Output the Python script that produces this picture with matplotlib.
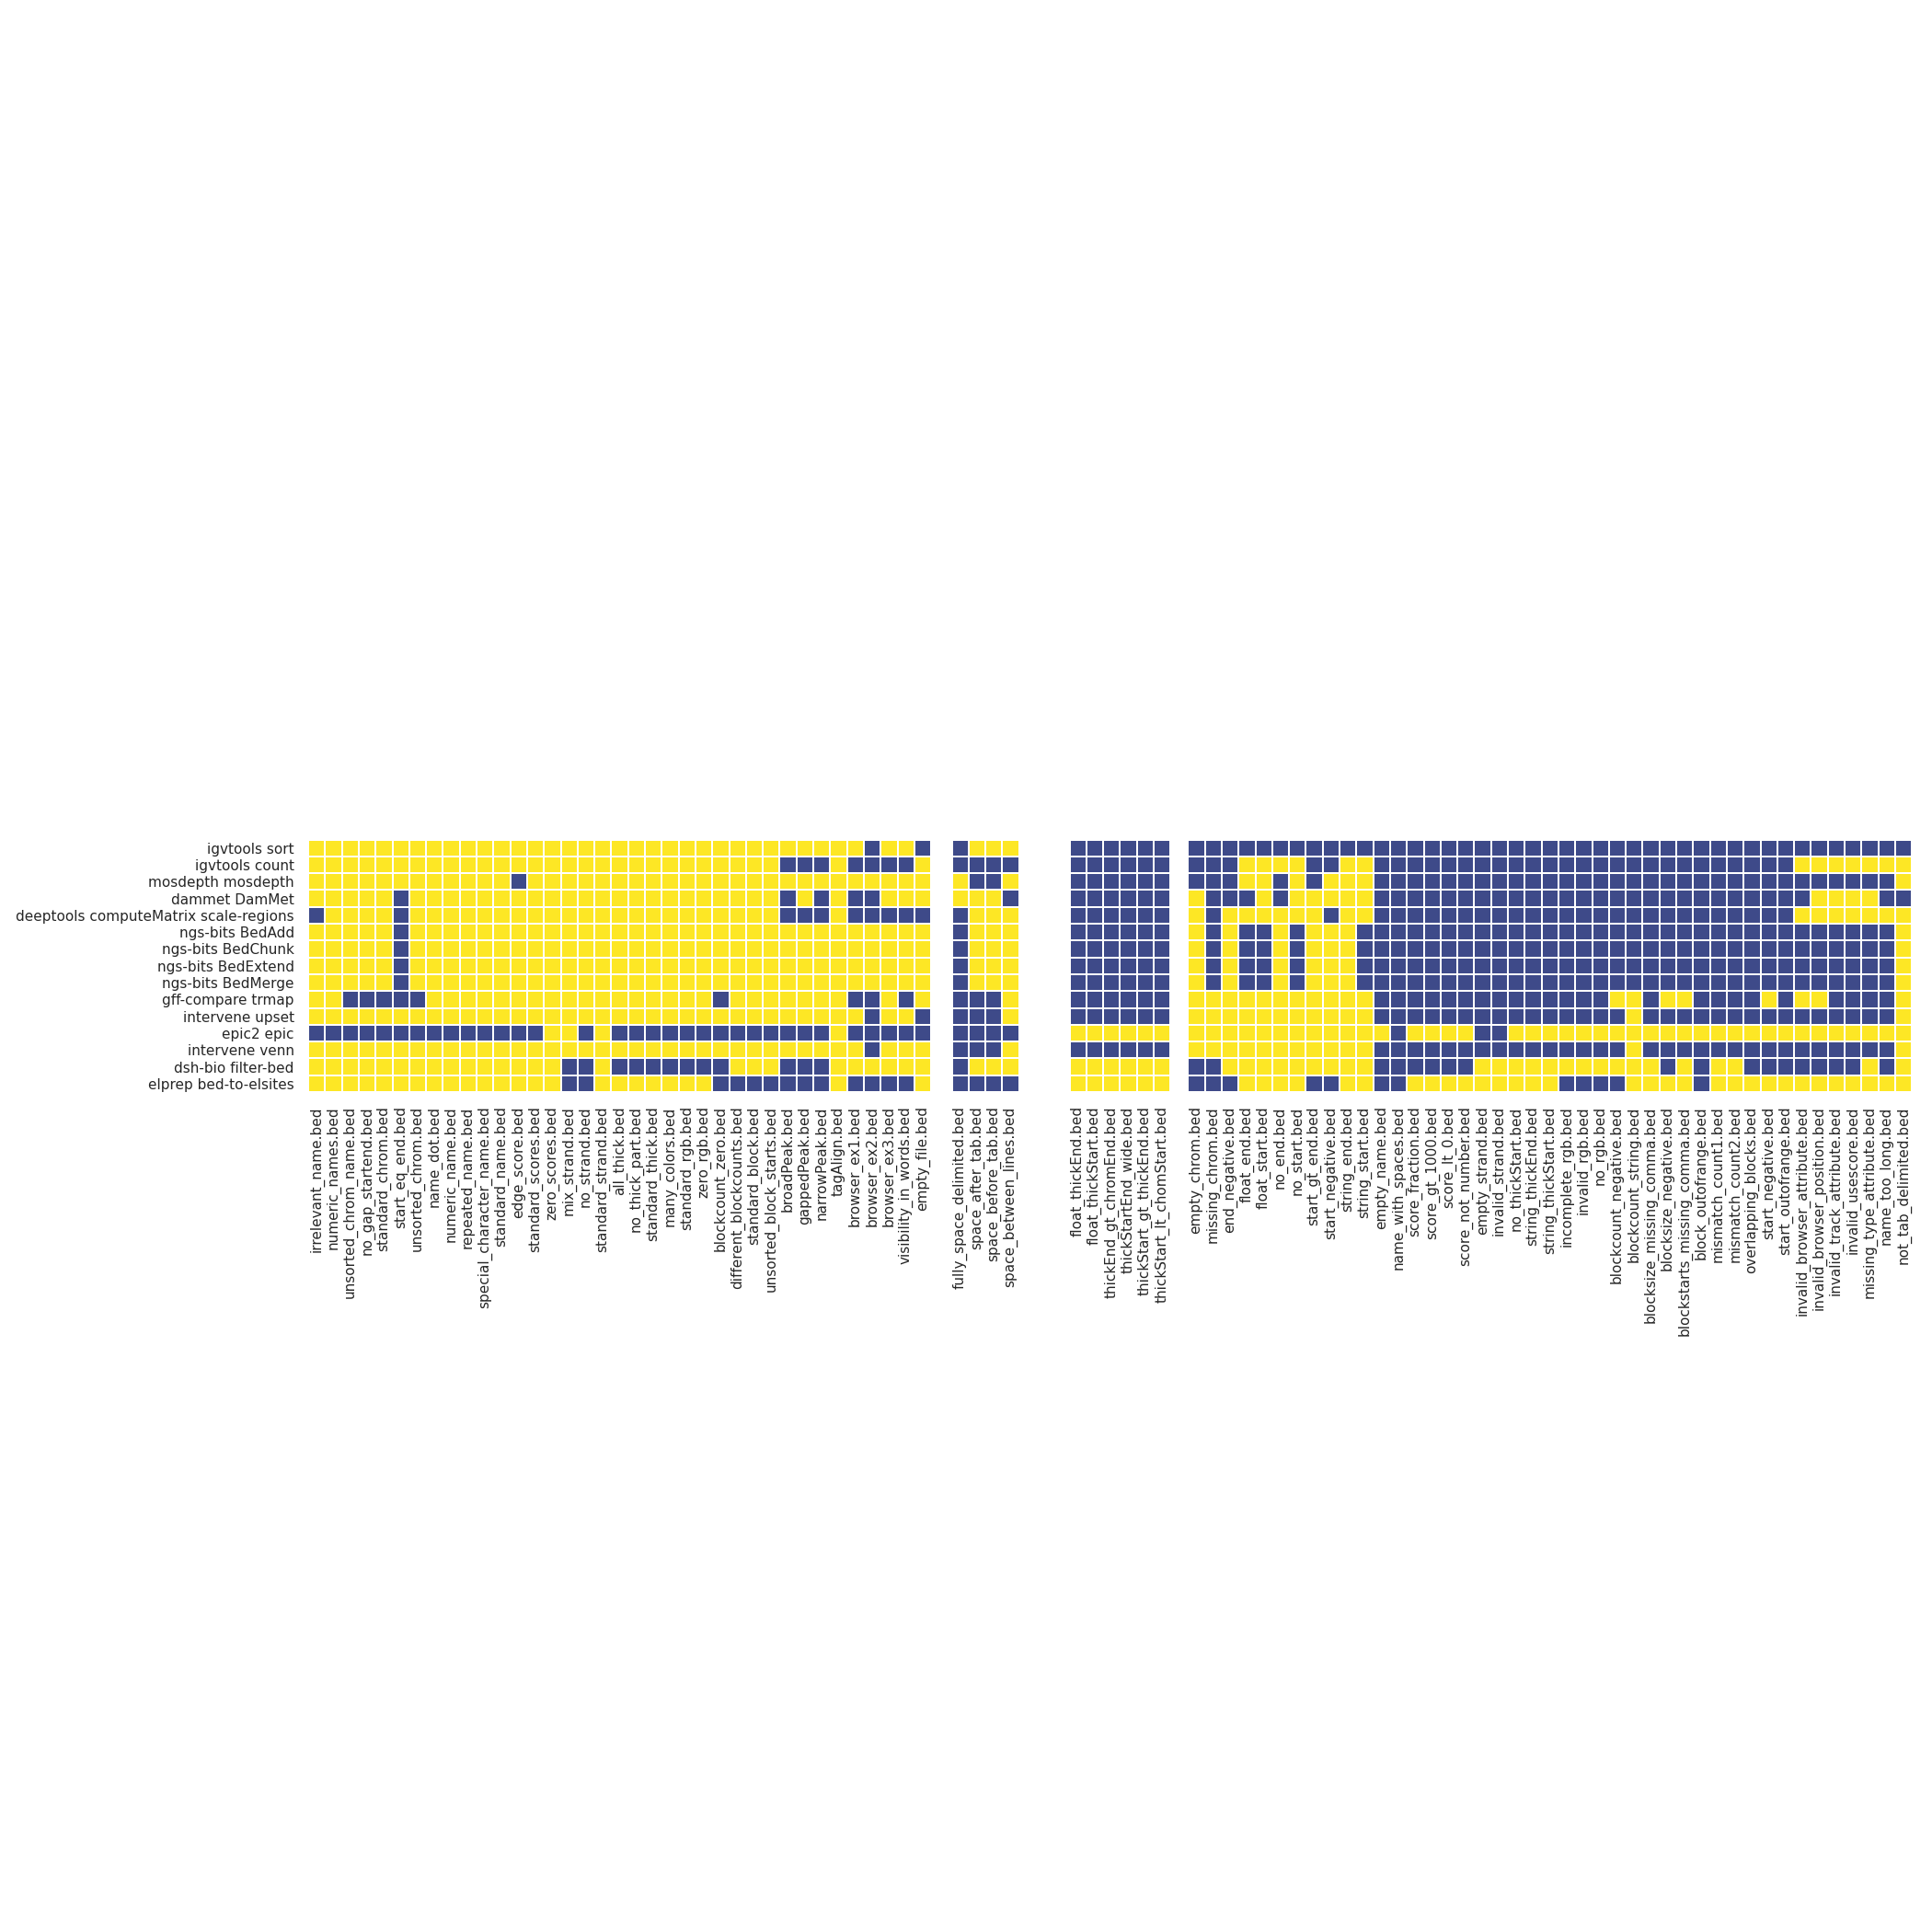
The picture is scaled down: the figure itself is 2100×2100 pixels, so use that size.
import numpy as np
import matplotlib
matplotlib.use("Agg")
import matplotlib.pyplot as plt
from matplotlib.colors import ListedColormap

plt.rcParams['font.family'] = ['DejaVu Sans']

tools = ["igvtools sort", "igvtools count", "mosdepth mosdepth", "dammet DamMet",
         "deeptools computeMatrix scale-regions", "ngs-bits BedAdd", "ngs-bits BedChunk",
         "ngs-bits BedExtend", "ngs-bits BedMerge", "gff-compare trmap", "intervene upset",
         "epic2 epic", "intervene venn", "dsh-bio filter-bed", "elprep bed-to-elsites"]

files_valid = ["irrelevant_name.bed", "numeric_names.bed", "unsorted_chrom_name.bed",
               "no_gap_startend.bed", "standard_chrom.bed", "start_eq_end.bed",
               "unsorted_chrom.bed", "name_dot.bed", "numeric_name.bed", "repeated_name.bed",
               "special_character_name.bed", "standard_name.bed", "edge_score.bed",
               "standard_scores.bed", "zero_scores.bed", "mix_strand.bed", "no_strand.bed",
               "standard_strand.bed", "all_thick.bed", "no_thick_part.bed",
               "standard_thick.bed", "many_colors.bed", "standard_rgb.bed", "zero_rgb.bed",
               "blockcount_zero.bed", "different_blockcounts.bed", "standard_block.bed",
               "unsorted_block_starts.bed", "broadPeak.bed", "gappedPeak.bed",
               "narrowPeak.bed", "tagAlign.bed", "browser_ex1.bed", "browser_ex2.bed",
               "browser_ex3.bed", "visibility_in_words.bed", "empty_file.bed"]

files_space = ["fully_space_delimited.bed", "space_after_tab.bed",
               "space_before_tab.bed", "space_between_lines.bed"]

files_thick = ["float_thickEnd.bed", "float_thickStart.bed", "thickEnd_gt_chromEnd.bed",
               "thickStartEnd_wide.bed", "thickStart_gt_thickEnd.bed",
               "thickStart_lt_chomStart.bed"]

files_invalid = ["empty_chrom.bed", "missing_chrom.bed", "end_negative.bed", "float_end.bed",
                 "float_start.bed", "no_end.bed", "no_start.bed", "start_gt_end.bed",
                 "start_negative.bed", "string_end.bed", "string_start.bed",
                 "empty_name.bed", "name_with_spaces.bed", "score_fraction.bed",
                 "score_gt_1000.bed", "score_lt_0.bed", "score_not_number.bed",
                 "empty_strand.bed", "invalid_strand.bed", "no_thickStart.bed",
                 "string_thickEnd.bed", "string_thickStart.bed", "incomplete_rgb.bed",
                 "invalid_rgb.bed", "no_rgb.bed", "blockcount_negative.bed",
                 "blockcount_string.bed", "blocksize_missing_comma.bed",
                 "blocksize_negative.bed", "blockstarts_missing_comma.bed",
                 "block_outofrange.bed", "mismatch_count1.bed", "mismatch_count2.bed",
                 "overlapping_blocks.bed", "start_negative.bed", "start_outofrange.bed",
                 "invalid_browser_attribute.bed", "invalid_browser_position.bed",
                 "invalid_track_attribute.bed", "invalid_usescore.bed",
                 "missing_type_attribute.bed", "name_too_long.bed", "not_tab_delimited.bed"]

# 1 = yellow, 0 = dark blue ; one string per tool (row)
res_valid = [
    "11111 11111 11111 11111 11111 11111 11101 10",
    "11111 11111 11111 11111 11111 11100 01000 01",
    "11111 11111 11011 11111 11111 11111 11111 11",
    "11111 01111 11111 11111 11111 11101 01001 11",
    "01111 01111 11111 11111 11111 11100 01000 00",
    "11111 01111 11111 11111 11111 11111 11111 11",
    "11111 01111 11111 11111 11111 11111 11111 11",
    "11111 01111 11111 11111 11111 11111 11111 11",
    "11111 01111 11111 11111 11111 11111 11111 11",
    "11000 00111 11111 11111 11110 11111 11001 01",
    "11111 11111 11111 11111 11111 11111 11101 10",
    "00000 00000 00001 10100 00000 00000 01000 00",
    "11111 11111 11111 11111 11111 11111 11101 11",
    "11111 11111 11111 00100 00000 11100 01111 11",
    "11111 11111 11111 00111 11110 00000 01000 01",
]

res_space = ["0111", "0000", "1001", "1110", "0111", "0111", "0111", "0111", "0111",
             "0001", "0001", "0000", "0001", "0111", "0000"]

res_thick = ["000000", "000000", "000000", "000000", "000000", "000000", "000000",
             "000000", "000000", "000000", "000000", "111111", "000000", "111111",
             "111111"]

res_invalid = [
    "00000 00000 00000 00000 00000 00000 00000 00000 000",
    "00011 11001 10000 00000 00000 00000 00000 01111 111",
    "00011 01011 10000 00000 00000 00000 00000 00000 001",
    "10001 01111 10000 00000 00000 00000 00000 00111 100",
    "10111 11101 10000 00000 00000 00000 00000 01111 111",
    "10100 10111 00000 00000 00000 00000 00000 00000 001",
    "10100 10111 00000 00000 00000 00000 00000 00000 001",
    "10100 10111 00000 00000 00000 00000 00000 00000 001",
    "10100 10111 00000 00000 00000 00000 00000 00000 001",
    "11111 11111 10000 00000 00000 11011 00001 01100 001",
    "11111 11111 10000 00000 00000 01000 00000 00000 001",
    "11111 11111 11011 11001 11111 11111 11111 11111 111",
    "11111 11111 10000 00000 00000 01000 00000 00000 001",
    "00111 11111 10000 00111 11111 11101 01100 00000 101",
    "00011 11001 10011 11111 11000 01111 01111 11111 111",
]


def to_matrix(rows):
    return np.array([[int(c) for c in r.replace(" ", "")] for r in rows], dtype=float)


panels = [(files_valid, res_valid), (files_space, res_space),
          (files_thick, res_thick), (files_invalid, res_invalid)]

cmap = ListedColormap(["#3e4a89", "#fde725"])
text_color = "#262626"

W = H = 2100
cell = 18.3
lefts_px = [335.0, 1034.5, 1162.5, 1291.3]
top_px = 912.5
fs = 11

fig = plt.figure(figsize=(21, 21), dpi=100)
for k, ((labels, rows), lpx) in enumerate(zip(panels, lefts_px)):
    m = to_matrix(rows)
    nr, nc = m.shape
    ax = fig.add_axes([lpx / W, 1 - (top_px + nr * cell) / H, nc * cell / W, nr * cell / H])
    ax.pcolormesh(np.arange(nc + 1), np.arange(nr + 1), m, cmap=cmap, vmin=0, vmax=1,
                  edgecolors="white", linewidth=1.2)
    ax.set_xlim(0, nc)
    ax.set_ylim(nr, 0)
    for s in ax.spines.values():
        s.set_visible(False)
    ax.set_xticks(np.arange(nc) + 0.5)
    ax.set_xticklabels(labels, rotation=90, fontsize=fs, color=text_color)
    if k == 0:
        ax.set_yticks(np.arange(nr) + 0.5)
        ax.set_yticklabels(tools, fontsize=fs, color=text_color)
    else:
        ax.set_yticks([])
    ax.tick_params(axis="both", length=0, pad=11)

fig.savefig("out.png", dpi=100, facecolor="white")
